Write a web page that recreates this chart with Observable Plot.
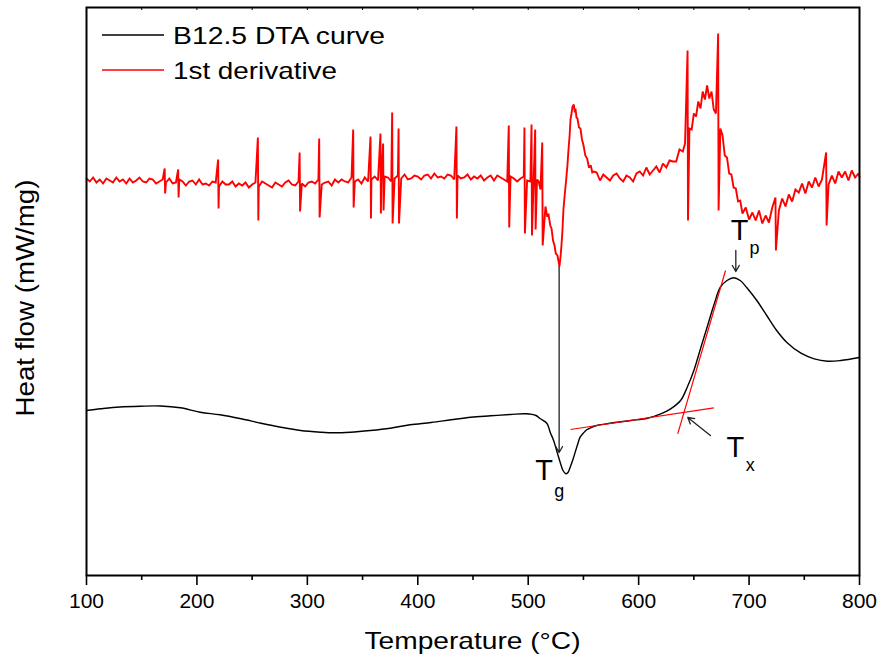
<!DOCTYPE html>
<html>
<head>
<meta charset="utf-8">
<script src="https://cdn.jsdelivr.net/npm/d3@7"></script>
<script src="https://cdn.jsdelivr.net/npm/@observablehq/plot@0.6"></script>
<style>
  html, body { margin: 0; padding: 0; background: #fff; }
  #chart { width: 880px; height: 664px; }
</style>
</head>
<body>
<div id="chart"></div>
<script>
// ---------- DATA (temperature °C, heat flow in arbitrary units) ----------
const majorTicks = [100, 200, 300, 400, 500, 600, 700, 800];
const minorTicks = [150, 250, 350, 450, 550, 650, 750];
const xLabel = "Temperature (°C)";
const yLabel = "Heat flow (mW/mg)";
const seriesNames = ["B12.5 DTA curve", "1st derivative"];

// B12.5 DTA curve
const dtaCurve = [
  [100,165],[113,166.7],[130,168.5],[149,169.3],[167,169.5],[185,167.7],[203,163.3],[221,160.7],
  [240,156.7],[258,152.3],[276,148.3],[294,145],[312,143.3],[324,142.7],[339,143.3],[357,145],
  [375,147.3],[393,150.7],[412,153],[430,155.7],[448,158.3],[466,159.7],[484,161],[498,161.7],
  [507,160],[511,156.7],[517,152],[520,143],[523,135],[526,124],[529,113],[531.5,105],[534,101.7],
  [536,103],[538,108.3],[540.5,116],[543,125],[545,132],[547,138.3],[550,142.5],[553,145.7],
  [557,148],[562,150],[570,151.5],[577,152.7],[593,155],[608,157.3],[620,161.7],[629,166.7],
  [638,175],[644,188.3],[650,205],[656,226.7],[662,248.3],[668,270],[674,288.3],[680,295],
  [686,297.7],[692,295],[698,287.7],[707,275],[716,260],[725,245],[734,233.3],[747,222.3],
  [759,216.7],[771,214.3],[783,215],[800,218]
];

// 1st derivative (noisy baseline, dip and hump)
const derivBaseline = [
  [100,397],[103,394],[106,398],[109,393],[112,396],[115,392],[118,397],[121,395],[124,393],[127,398],
  [130,394],[133,396],[136,392],[139,397],[142,393],[145,395],[148,398],[151,394],[154,393],[157,397],
  [160,396],[163,392],[166,394],[169,396],[172,393],[175,397],[178,392],[181,393],[184,396],[187,394],
  [190,390],[193,394],[196,395],[199,391],[202,396],[205,391],[208,392],[211,390],[214,394],[217,393],
  [220,389],[223,394],[226,391],[229,391],[232,394],[235,389],[238,392],[241,390],[244,393],[247,388],
  [250,391],[253,393],[256,389],[259,394],[262,392],[265,390],[268,388],[271,393],[274,391],[277,389],
  [280,393],[283,395],[286,391],[289,390],[292,394],[295,392],[298,389],[301,393],[304,394],[307,392],
  [310,396],[313,391],[316,393],[319,394],[322,390],[325,396],[328,393],[331,396],[334,394],[337,393],
  [340,398],[343,394],[346,396],[349,392],[352,398],[355,394],[358,396],[361,399],[364,395],[367,395],
  [370,399],[373,398],[376,394],[379,397],[382,400],[385,397],[388,401],[391,396],[394,397],[397,400],
  [400,399],[403,396],[406,400],[409,401],[412,397],[415,402],[418,398],[421,399],[424,397],[427,401],
  [430,400],[433,396],[436,400],[439,397],[442,398],[445,401],[448,396],[451,399],[454,397],[457,400],
  [460,395],[463,398],[466,400],[469,395],[472,400],[475,398],[478,396],[481,394],[484,399],[487,397],
  [490,394],[493,397],[496,399],[499,395],[502,394],[505,398],[508,396]
];
const derivDip = [
  [509.5,394],[511.1,386],[515.6,369],[517,360],[518.4,361],[520,350],[521.1,347],[522.5,335],
  [523.8,330],[525,322],[526.5,320],[527.5,314],[528.3,309],[529.2,318],[530.1,330],[531,345],
  [531.9,366],[533,380],[534.4,396],[535.5,410],[536.5,426],[537.5,440],[538.3,456],[539.2,462],
  [540.1,469],[541.3,471],[542.2,463],[542.8,467],[543.7,458],[544.6,457],[546,448],[547.3,447],
  [548.7,436],[550.1,430],[551.7,420],[553.4,417],[555,408],[556.7,410],[558,403],[559.5,404],
  [562,403],[565,395],[568,401],[571,398],[574,395],[577,400],[580,402],[583,397],[586,394],
  [589,400],[592,398],[595,394],[598,402],[601,404],[604,400],[607,408],[610,401],[613,405],
  [616,409],[619,403],[622,412],[625,408],[628,415],[631,414],[634,414],[637,426],[640,424]
];
const derivHump = [
  [642,432],[646,447],[648,446],[650,462],[652,459],[654,474],[656,467],[658,484],[660,476],
  [662,490],[664,477],[666,484],[668,466],[670,462],[674,447],[676,440],[678,420],[680,418],
  [682,402],[684,401],[686,388],[688,387],[690,374],[692,375],[694,362],
  [697,368],[700,356],[703,363],[706,355],[709,365],[712,352],[715,360],[718,353],[721,368],
  [727,365],[730,377],[733,369],[736,381],[739,374],[742,386],[745,383],[748,392],[751,382],
  [754,394],[757,388],[760,398],[763,389],[766,396],[772,391],[775,400],[778,392],[781,404],
  [784,398],[787,404],[790,395],[793,405],[796,398],[799,402],[800,399]
];
// sharp artefact spikes: temperature, upper value, lower value
const spikeT    = [170.8,183,219.2,255.2,293,310.7,341.5,357.2,366.2,368.6,376.8,382.6,435,482.4,496.6,503,506.3,512.7,644.3,672,723.9,769.8];
const spikeUp   = [407,406,416,438,423,437,446,439,442,432,463,447,449,450,448,451,446,433,525,542,378,423];
const spikeDown = [382,378,367,355,364,358,368,357,362,365,352,352,357,348,342,340,346,330,355,365,325,350];

// annotations
const tangents = [
  {x1: 538.3, y1: 146, x2: 668.1, y2: 167.7},
  {x1: 635.4, y1: 141.7, x2: 678.7, y2: 305}
];
const arrowsBlack = [
  {x1: 528, y1: 309, x2: 528, y2: 123},
  {x1: 688, y1: 325, x2: 688, y2: 304},
  {x1: 665, y1: 140, x2: 644.5, y2: 158}
];
const mainLabels = [
  {x: 514.5, y: 105, t: "T"},
  {x: 691.5, y: 345, t: "T"},
  {x: 687.5, y: 128, t: "T"}
];
const subLabels = [
  {x: 528, y: 84, t: "g"},
  {x: 705, y: 327, t: "p"},
  {x: 701, y: 110, t: "x"}
];

// ---------- BUILD ----------
const dta = dtaCurve.map(([T, v]) => ({T, v}));
const deriv = [...derivBaseline, ...derivDip, ...derivHump].map(([T, v]) => ({T, v}));
spikeT.forEach((T, i) => {
  deriv.push({T: T, v: spikeUp[i]});
  deriv.push({T: T + 0.4, v: spikeDown[i]});
});
deriv.sort((a, b) => a.T - b.T);

const FONT = "'Liberation Sans', Arial, Helvetica, sans-serif";

const chart = Plot.plot({
  width: 880,
  height: 664,
  marginTop: 7,
  marginBottom: 89,
  marginLeft: 86,
  marginRight: 21,
  x: {domain: [100, 800], axis: null},
  y: {domain: [0, 568], axis: null},
  style: {fontFamily: FONT, fontSize: "21px", color: "black", background: "white", overflow: "visible"},
  marks: [
    Plot.axisX(majorTicks, {tickSize: 10, tickPadding: 8, strokeWidth: 1.6, tickFormat: d => String(d), label: null, fontSize: 21}),
    Plot.axisX(minorTicks, {tickSize: 5, strokeWidth: 1.6, tickFormat: () => "", label: null}),
    Plot.tickX([...majorTicks, ...minorTicks], {x: d => d, insetBottom: 565, stroke: "black", strokeWidth: 1}),
    Plot.line(deriv, {x: "T", y: "v", stroke: "#ff0000", strokeWidth: 1.9, strokeLinejoin: "miter", strokeMiterlimit: 2}),
    Plot.line(dta, {x: "T", y: "v", stroke: "black", strokeWidth: 1.4, curve: "catmull-rom"}),
    Plot.link(tangents, {x1: "x1", y1: "y1", x2: "x2", y2: "y2", stroke: "#ff0000", strokeWidth: 1.2}),
    Plot.arrow(arrowsBlack, {x1: "x1", y1: "y1", x2: "x2", y2: "y2", stroke: "#222", strokeWidth: 1.3, headLength: 8}),
    Plot.text(mainLabels, {x: "x", y: "y", text: "t", fontSize: 29, fill: "black", textAnchor: "middle", lineAnchor: "middle"}),
    Plot.text(subLabels, {x: "x", y: "y", text: "t", fontSize: 18, fill: "black", textAnchor: "middle", lineAnchor: "middle"}),
    Plot.frame({stroke: "black", strokeWidth: 2})
  ]
});

const svg = d3.select(chart);
// axis titles
svg.append("text")
  .attr("x", 472.5).attr("y", 640)
  .attr("text-anchor", "middle").attr("dominant-baseline", "central")
  .attr("font-family", FONT).attr("font-size", 24)
  .attr("textLength", 216).attr("lengthAdjust", "spacingAndGlyphs")
  .attr("fill", "black").text(xLabel);
svg.append("text")
  .attr("transform", "translate(25,298) rotate(-90)")
  .attr("text-anchor", "middle").attr("dominant-baseline", "central")
  .attr("font-family", FONT).attr("font-size", 25)
  .attr("textLength", 237).attr("lengthAdjust", "spacingAndGlyphs")
  .attr("fill", "black").text(yLabel);
// legend
const legendColors = ["black", "#ff0000"];
const legendLens = [212, 164];
seriesNames.forEach((name, i) => {
  const y = 35 + i * 35;
  svg.append("line").attr("x1", 102).attr("x2", 164).attr("y1", y).attr("y2", y)
    .attr("stroke", legendColors[i]).attr("stroke-width", 1.4);
  svg.append("text").attr("x", 173).attr("y", y)
    .attr("text-anchor", "start")
    .attr("dominant-baseline", "central")
    .attr("font-family", FONT).attr("font-size", 24)
    .attr("textLength", legendLens[i]).attr("lengthAdjust", "spacingAndGlyphs")
    .attr("fill", "black").text(name);
});

document.getElementById("chart").appendChild(chart);
</script>
</body>
</html>
